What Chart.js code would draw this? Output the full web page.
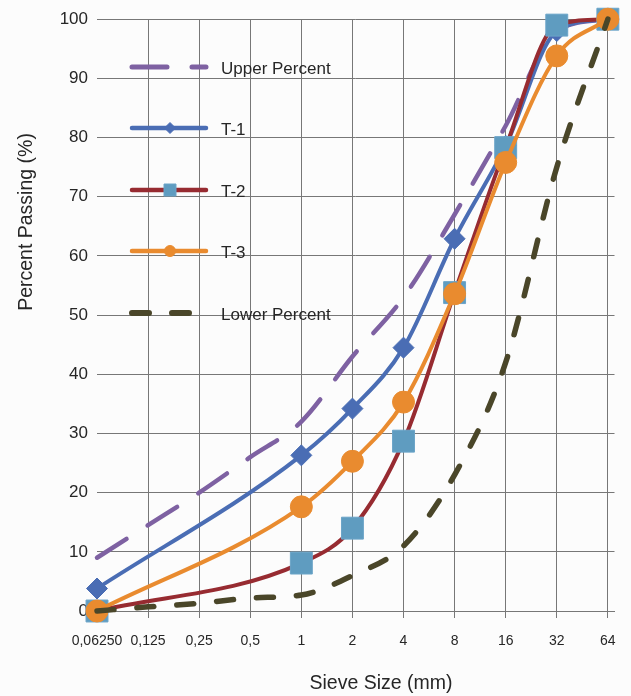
<!DOCTYPE html>
<html>
<head>
<meta charset="utf-8">
<script src="https://cdn.jsdelivr.net/npm/chart.js@4.4.1/dist/chart.umd.min.js"></script>
<style>
  html, body { margin: 0; padding: 0; background: #fcfcfc; }
  #chart { display: block; }
</style>
</head>
<body>
<canvas id="chart" width="631" height="696"></canvas>
<script>
/* ---------- Données ---------- */
const sieveSizes   = ["0,06250", "0,125", "0,25", "0,5", "1", "2", "4", "8", "16", "32", "64"];
const upperPercent = [9, 14.5, 20, 26, 32, 43, 53, 67, 82, 98, 100];
const t1Passing    = [3.8, null, null, null, 26.3, 34.2, 44.5, 62.9, 78.6, 98, 100];
const t2Passing    = [0, null, null, null, 8.1, 14, 28.7, 53.8, 78.3, 99, 100];
const t3Passing    = [0, null, null, null, 17.6, 25.3, 35.3, 53.6, 75.8, 93.8, 100];
const lowerPercent = [0, 0.7, 1.3, 2.2, 2.7, 6, 11, 23, 42, 75, 100];
const seriesNames  = ["Upper Percent", "T-1", "T-2", "T-3", "Lower Percent"];

const FONT = "'Liberation Sans', Arial, sans-serif";
const GRID = "#777777";
const TEXT = "#262626";

const toPoints = arr => arr.map((v, i) => ({ x: i, y: v }));

/* ---------- Légende + titres d'axes (dessinés dans le graphique) ---------- */
const legendRows = [67, 128, 190, 251, 313];

function drawMarker(ctx, style, x, y, r, fill, stroke) {
    ctx.save();
    ctx.fillStyle = fill;
    ctx.strokeStyle = stroke;
    ctx.lineWidth = 1;
    ctx.beginPath();
    if (style === "rectRot") {
        ctx.moveTo(x - r, y); ctx.lineTo(x, y - r); ctx.lineTo(x + r, y); ctx.lineTo(x, y + r);
        ctx.closePath();
    } else if (style === "rect") {
        ctx.rect(x - r, y - r, 2 * r, 2 * r);
    } else {
        ctx.arc(x, y, r, 0, Math.PI * 2);
    }
    ctx.fill();
    ctx.stroke();
    ctx.restore();
}

const insideLegend = {
    id: "insideLegend",
    afterDraw(chart) {
        const ctx = chart.ctx;
        chart.data.datasets.forEach((ds, i) => {
            const y = legendRows[i];
            ctx.save();
            ctx.strokeStyle = ds.borderColor;
            ctx.lineWidth = ds.borderWidth + 0.5;
            ctx.lineCap = "round";
            ctx.setLineDash(ds.borderDash || []);
            ctx.beginPath();
            ctx.moveTo(132, y);
            ctx.lineTo(206, y);
            ctx.stroke();
            ctx.restore();

            if (ds.legendMarker) {
                drawMarker(ctx, ds.pointStyle, 170, y, ds.legendMarker, ds.pointBackgroundColor, ds.pointBorderColor);
            }

            ctx.save();
            ctx.fillStyle = TEXT;
            ctx.font = "17px " + FONT;
            ctx.textBaseline = "middle";
            ctx.textAlign = "left";
            ctx.fillText(ds.label, 221, y + 2);
            ctx.restore();
        });

        // titres des axes
        ctx.save();
        ctx.fillStyle = TEXT;
        ctx.font = "19.5px " + FONT;
        ctx.textAlign = "center";
        ctx.textBaseline = "middle";
        ctx.fillText("Sieve Size (mm)", 381, 684);
        ctx.translate(27, 222);
        ctx.rotate(-Math.PI / 2);
        ctx.fillText("Percent Passing (%)", 0, 0);
        ctx.restore();
    }
};

/* ---------- Graphique ---------- */
const lineBase = {
    fill: false,
    clip: false,
    spanGaps: true,
    cubicInterpolationMode: "monotone",
    borderCapStyle: "round",
    borderJoinStyle: "round"
};

new Chart(document.getElementById("chart"), {
    type: "line",
    data: {
        datasets: [
            {
                ...lineBase,
                label: seriesNames[0],
                data: toPoints(upperPercent),
                borderColor: "#7e61a2",
                borderWidth: 4.5,
                borderDash: [35, 25],
                pointRadius: 0,
                order: 5
            },
            {
                ...lineBase,
                label: seriesNames[1],
                data: toPoints(t1Passing),
                borderColor: "#4a6db4",
                borderWidth: 4,
                pointStyle: "rectRot",
                pointRadius: 10.5,
                pointBackgroundColor: "#4a6db4",
                pointBorderColor: "#4a6db4",
                pointBorderWidth: 1,
                legendMarker: 5.5,
                order: 4
            },
            {
                ...lineBase,
                label: seriesNames[2],
                data: toPoints(t2Passing),
                borderColor: "#972b31",
                borderWidth: 4,
                pointStyle: "rect",
                pointRadius: 15.5,
                pointBackgroundColor: "#5f9cc0",
                pointBorderColor: "#6ba4c8",
                pointBorderWidth: 1,
                legendMarker: 6,
                order: 3
            },
            {
                ...lineBase,
                label: seriesNames[3],
                data: toPoints(t3Passing),
                borderColor: "#e98b2f",
                borderWidth: 4,
                pointStyle: "circle",
                pointRadius: 11,
                pointBackgroundColor: "#e98b2f",
                pointBorderColor: "#e98b2f",
                pointBorderWidth: 1,
                legendMarker: 5.5,
                order: 2
            },
            {
                ...lineBase,
                label: seriesNames[4],
                data: toPoints(lowerPercent),
                borderColor: "#4a4629",
                borderWidth: 5.5,
                borderDash: [17, 23],
                pointRadius: 0,
                order: 1
            }
        ]
    },
    options: {
        responsive: false,
        animation: false,
        devicePixelRatio: 1,
        layout: { padding: { top: 18, right: 11, left: 0, bottom: 0 } },
        plugins: {
            legend: { display: false },
            tooltip: { enabled: false }
        },
        scales: {
            x: {
                type: "linear",
                min: 0,
                max: 10.13,
                afterBuildTicks: axis => {
                    axis.ticks = sieveSizes.map((_, i) => ({ value: i }));
                },
                afterFit: axis => { axis.height = 85; },
                ticks: {
                    color: TEXT,
                    font: { family: FONT, size: 14 },
                    padding: 15,
                    maxRotation: 0,
                    autoSkip: false,
                    callback: value => sieveSizes[value]
                },
                grid: {
                    color: ctx => (ctx.index === 0 ? "rgba(0,0,0,0)" : GRID),
                    lineWidth: 1,
                    drawTicks: true,
                    tickLength: 7
                },
                border: { display: true, color: GRID, width: 1 }
            },
            y: {
                min: 0,
                max: 100,
                afterFit: axis => { axis.width = 97; },
                ticks: {
                    stepSize: 10,
                    color: TEXT,
                    font: { family: FONT, size: 17 },
                    padding: 9
                },
                grid: { color: GRID, lineWidth: 1, drawTicks: false },
                border: { display: false }
            }
        }
    },
    plugins: [insideLegend]
});
</script>
</body>
</html>
